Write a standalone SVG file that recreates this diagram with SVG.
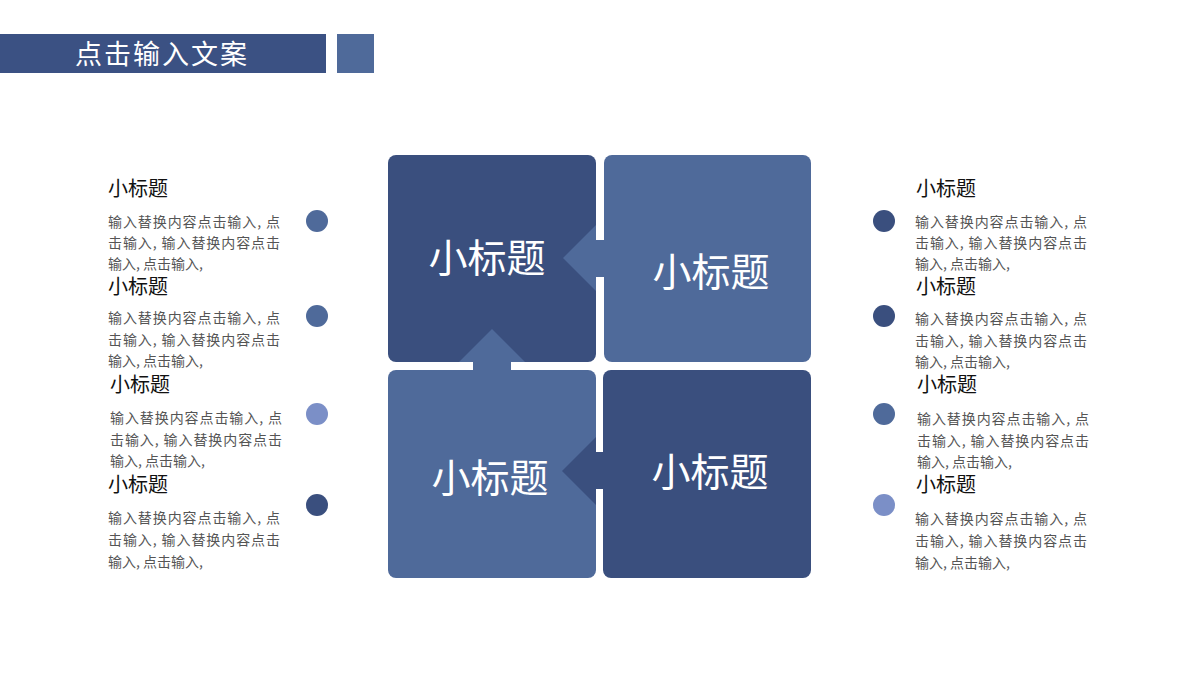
<svg xmlns="http://www.w3.org/2000/svg" width="1200" height="675" viewBox="0 0 1200 675">
<style>
.dark{fill:#3A4F7E}
.mid{fill:#4F6A9A}
.light{fill:#7B8FC7}
.big{font-family:"Noto Sans CJK SC",sans-serif;font-size:39px;fill:#fff;text-anchor:middle}
.tt{font-family:"Noto Sans CJK SC",sans-serif;font-size:20px;fill:#111}
.bd{font-family:"Noto Sans CJK SC",sans-serif;font-size:14px;fill:#555}
</style>
<rect width="1200" height="675" fill="#fff"/>
<g id="header">
<rect x="0" y="34" width="326" height="39" fill="#3B5183"/>
<rect x="337" y="34" width="37" height="39" fill="#4F6A9A"/>
<text x="75" y="64" font-family="'Noto Sans CJK SC',sans-serif" font-size="27" fill="#fff" letter-spacing="2">点击输入文案</text>
</g>
<g id="box-tl"><rect class="dark" x="388" y="155" width="208" height="207" rx="8"/></g>
<g id="box-tr"><rect class="mid" x="604" y="155" width="207" height="207" rx="8"/></g>
<g id="box-bl"><rect class="mid" x="388" y="370" width="208" height="208" rx="8"/></g>
<g id="box-br"><rect class="dark" x="603" y="370" width="208" height="208" rx="8"/></g>
<g id="connectors">
<path class="mid" d="M563,258 L596,225 L596,240 L605,240 L605,277 L596,277 L596,291 Z"/>
<path class="mid" d="M492,329 L525,362 L511,362 L511,371 L473,371 L473,362 L459,362 Z"/>
<path class="dark" d="M562,471 L596,437 L596,452 L604,452 L604,489 L596,489 L596,505 Z"/>
</g>
<g id="labels-boxes">
<text class="big" x="487" y="272">小标题</text>
<text class="big" x="711" y="286">小标题</text>
<text class="big" x="490" y="492">小标题</text>
<text class="big" x="710" y="486">小标题</text>
</g>
<g id="left-1">
<circle class="mid" cx="317" cy="221" r="11"/>
<text class="tt" x="108" y="196">小标题</text>
<text class="bd" x="108" y="227" textLength="172">输入替换内容点击输入, 点</text>
<text class="bd" x="108" y="248" textLength="172">击输入, 输入替换内容点击</text>
<text class="bd" x="108" y="269">输入, 点击输入,</text>
</g>
<g id="left-2">
<circle class="mid" cx="317" cy="316" r="11"/>
<text class="tt" x="108" y="294">小标题</text>
<text class="bd" x="108" y="323" textLength="172">输入替换内容点击输入, 点</text>
<text class="bd" x="108" y="345" textLength="172">击输入, 输入替换内容点击</text>
<text class="bd" x="108" y="366">输入, 点击输入,</text>
</g>
<g id="left-3">
<circle class="light" cx="317" cy="414" r="11"/>
<text class="tt" x="110" y="392">小标题</text>
<text class="bd" x="110" y="423" textLength="172">输入替换内容点击输入, 点</text>
<text class="bd" x="110" y="445" textLength="172">击输入, 输入替换内容点击</text>
<text class="bd" x="110" y="466">输入, 点击输入,</text>
</g>
<g id="left-4">
<circle class="dark" cx="317" cy="505" r="11"/>
<text class="tt" x="108" y="492">小标题</text>
<text class="bd" x="108" y="523" textLength="172">输入替换内容点击输入, 点</text>
<text class="bd" x="108" y="545" textLength="172">击输入, 输入替换内容点击</text>
<text class="bd" x="108" y="567">输入, 点击输入,</text>
</g>
<g id="right-1">
<circle class="dark" cx="884" cy="221" r="11"/>
<text class="tt" x="916" y="196">小标题</text>
<text class="bd" x="915" y="227" textLength="172">输入替换内容点击输入, 点</text>
<text class="bd" x="915" y="248" textLength="172">击输入, 输入替换内容点击</text>
<text class="bd" x="915" y="269">输入, 点击输入,</text>
</g>
<g id="right-2">
<circle class="dark" cx="884" cy="316" r="11"/>
<text class="tt" x="916" y="294">小标题</text>
<text class="bd" x="915" y="324" textLength="172">输入替换内容点击输入, 点</text>
<text class="bd" x="915" y="346" textLength="172">击输入, 输入替换内容点击</text>
<text class="bd" x="915" y="367">输入, 点击输入,</text>
</g>
<g id="right-3">
<circle class="mid" cx="884" cy="414" r="11"/>
<text class="tt" x="917" y="392">小标题</text>
<text class="bd" x="917" y="424" textLength="172">输入替换内容点击输入, 点</text>
<text class="bd" x="917" y="446" textLength="172">击输入, 输入替换内容点击</text>
<text class="bd" x="917" y="467">输入, 点击输入,</text>
</g>
<g id="right-4">
<circle class="light" cx="884" cy="505" r="11"/>
<text class="tt" x="916" y="492">小标题</text>
<text class="bd" x="915" y="524" textLength="172">输入替换内容点击输入, 点</text>
<text class="bd" x="915" y="546" textLength="172">击输入, 输入替换内容点击</text>
<text class="bd" x="915" y="568">输入, 点击输入,</text>
</g>
</svg>
